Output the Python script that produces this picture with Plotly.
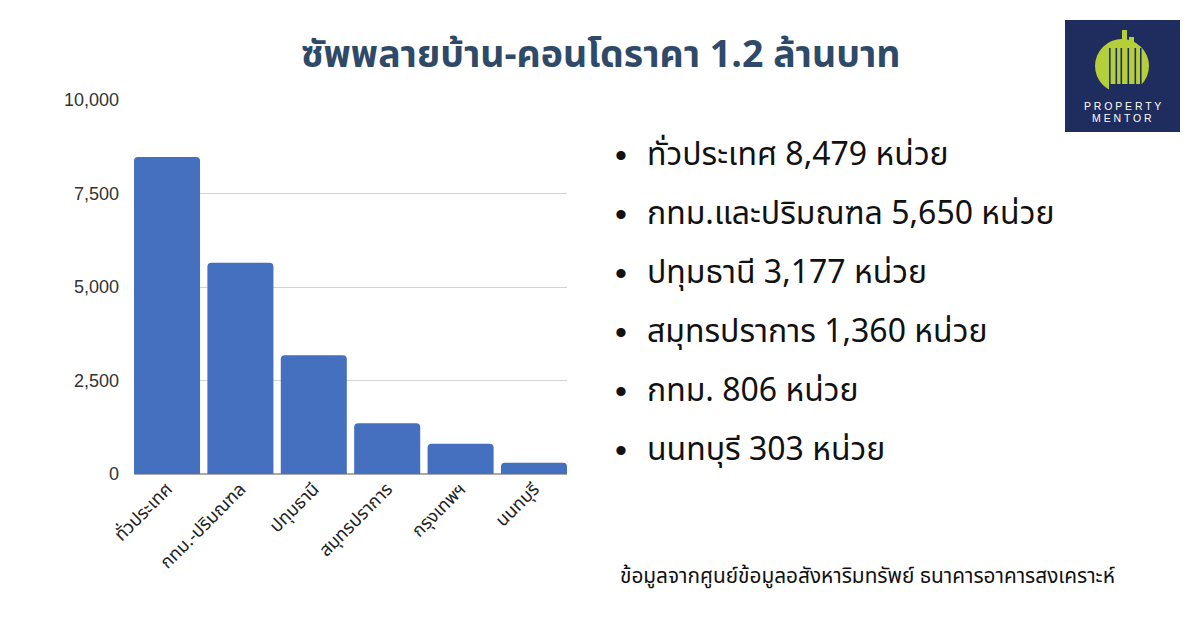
import plotly.graph_objects as go

categories = ["ทั่วประเทศ", "กทม.-ปริมณฑล", "ปทุมธานี", "สมุทรปราการ", "กรุงเทพฯ", "นนทบุรี"]
values = [8479, 5650, 3177, 1360, 806, 303]
y_ticks = [0, 2500, 5000, 7500, 10000]
y_tick_labels = ["0", "2,500", "5,000", "7,500", "10,000"]
bullet_lines = [
    "ทั่วประเทศ 8,479 หน่วย",
    "กทม.และปริมณฑล 5,650 หน่วย",
    "ปทุมธานี 3,177 หน่วย",
    "สมุทรปราการ 1,360 หน่วย",
    "กทม. 806 หน่วย",
    "นนทบุรี 303 หน่วย",
]
title_text = "ซัพพลายบ้าน-คอนโดราคา 1.2 ล้านบาท"
source_text = "ข้อมูลจากศูนย์ข้อมูลอสังหาริมทรัพย์ ธนาคารอาคารสงเคราะห์"

W, H = 1200, 628
THAI = "Noto Sans Thai, Noto Sans, Loma, Garuda, sans-serif"
NAVY = "#1F2D5E"
LIME = "#B5CF3A"


def px(x):
    return x / W


def py(y):
    return 1 - y / H


fig = go.Figure()
fig.add_trace(go.Bar(
    x=categories, y=values,
    marker=dict(color="#4470BF", cornerradius=4, line=dict(width=0)),
    hoverinfo="skip",
))

fig.update_layout(
    width=W, height=H,
    margin=dict(l=0, r=0, t=0, b=0, pad=0),
    paper_bgcolor="white", plot_bgcolor="white",
    showlegend=False,
    bargap=0.1,
    xaxis=dict(
        domain=[px(134), px(567)],
        range=[-0.45, 5.45],
        automargin=False,
        tickangle=-45,
        tickfont=dict(family=THAI, size=18, color="#222222"),
        showgrid=False, zeroline=False, showline=False, ticks="",
    ),
    yaxis=dict(
        domain=[py(474), py(100)],
        range=[0, 10000],
        automargin=False,
        tickvals=y_ticks, ticktext=y_tick_labels,
        tickfont=dict(family="Liberation Sans, Arial, sans-serif", size=18, color="#333333"),
        showgrid=True, gridcolor="#D3D3D3", gridwidth=1,
        zeroline=True, zerolinecolor="#AAAAAA", zerolinewidth=2,
        showline=False, ticks="", ticklabelstandoff=14,
    ),
)

annotations = []
annotations.append(dict(
    x=px(600), y=py(56), xref="paper", yref="paper", text="<b>" + title_text + "</b>",
    showarrow=False, xanchor="center", yanchor="middle",
    font=dict(family=THAI, size=37.5, color="#2E4A68"),
))
y0 = 155
for i, line in enumerate(bullet_lines):
    yy = y0 + i * 59
    annotations.append(dict(
        x=px(621), y=py(yy), xref="paper", yref="paper", text="•",
        showarrow=False, xanchor="center", yanchor="middle",
        font=dict(family="Liberation Sans, Arial, sans-serif", size=34, color="#111111"),
    ))
    annotations.append(dict(
        x=px(645), y=py(yy), xref="paper", yref="paper", text=line,
        showarrow=False, xanchor="left", yanchor="middle",
        font=dict(family=THAI, size=32, color="#111111"),
    ))
annotations.append(dict(
    x=px(618), y=py(576), xref="paper", yref="paper", text=source_text,
    showarrow=False, xanchor="left", yanchor="middle",
    font=dict(family=THAI, size=20.8, color="#111111"),
))
# logo text
annotations.append(dict(
    x=px(1122), y=py(106), xref="paper", yref="paper", text="P R O P E R T Y",
    showarrow=False, xanchor="center", yanchor="middle",
    font=dict(family="Liberation Sans, Arial, sans-serif", size=10.5, color="white"),
))
annotations.append(dict(
    x=px(1122), y=py(118), xref="paper", yref="paper", text="M E N T O R",
    showarrow=False, xanchor="center", yanchor="middle",
    font=dict(family="Liberation Sans, Arial, sans-serif", size=10.5, color="white"),
))
fig.update_layout(annotations=annotations)

shapes = []
# logo background
shapes.append(dict(type="rect", xref="paper", yref="paper",
                   x0=px(1065), x1=px(1180), y0=py(132), y1=py(20),
                   fillcolor=NAVY, line=dict(width=0), layer="above"))
# green circle
shapes.append(dict(type="circle", xref="paper", yref="paper",
                   x0=px(1095), x1=px(1149), y0=py(93), y1=py(39),
                   fillcolor=LIME, line=dict(width=0), layer="above"))
# tall building bars
for (a, b, top) in [(1122, 1127, 30), (1129, 1134, 37)]:
    shapes.append(dict(type="rect", xref="paper", yref="paper",
                       x0=px(a), x1=px(b), y0=py(83), y1=py(top),
                       fillcolor=LIME, line=dict(width=0), layer="above"))
# dark gaps cutting the circle
for gx in [1109, 1115.5, 1120.5, 1127.5, 1134.5, 1140]:
    shapes.append(dict(type="rect", xref="paper", yref="paper",
                       x0=px(gx), x1=px(gx + 1.6), y0=py(85), y1=py(48),
                       fillcolor=NAVY, line=dict(width=0), layer="above"))
# cut the lower middle of the circle
shapes.append(dict(type="rect", xref="paper", yref="paper",
                   x0=px(1109), x1=px(1142), y0=py(94), y1=py(84),
                   fillcolor=NAVY, line=dict(width=0), layer="above"))
fig.update_layout(shapes=shapes)

fig.write_html(
    "out.html",
    config={"displayModeBar": False},
    post_script="document.body.style.margin='0';document.body.style.overflow='hidden';",
)
